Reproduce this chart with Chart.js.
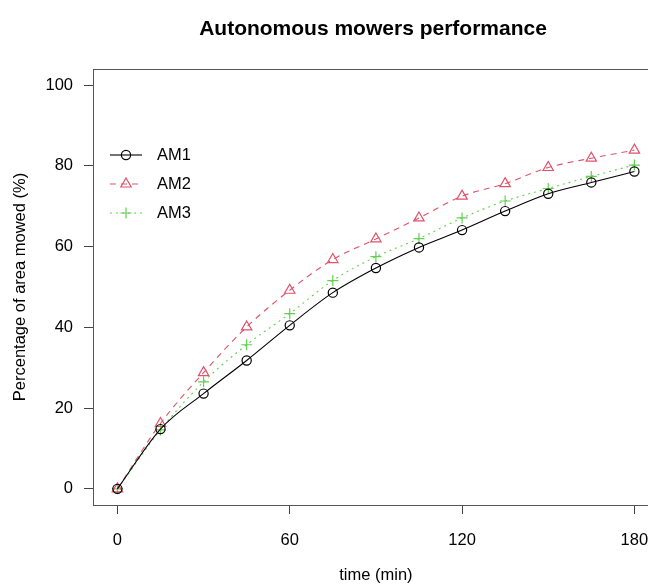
<!DOCTYPE html>
<html>
<head>
<meta charset="utf-8">
<script src="https://cdn.jsdelivr.net/npm/chart.js@4/dist/chart.umd.min.js"></script>
<style>
  html, body { margin: 0; padding: 0; background: #fff; overflow: hidden; }
  #wrap { width: 648px; height: 584px; overflow: hidden; }
</style>
</head>
<body>
<div id="wrap"><canvas id="mowerChart" width="666" height="584"></canvas></div>
<script>
// values
const times = [0, 15, 30, 45, 60, 75, 90, 105, 120, 135, 150, 165, 180];
const am1 = [0, 14.8, 23.6, 31.8, 40.5, 48.6, 54.7, 59.8, 64.1, 68.8, 73.1, 75.9, 78.6];
const am2 = [0, 16.2, 28.8, 40.1, 49.2, 56.8, 61.9, 67.1, 72.5, 75.6, 79.6, 81.9, 83.9];
const am3 = [0, 14.6, 26.5, 35.7, 43.4, 51.6, 57.5, 62.0, 67.1, 71.3, 74.4, 77.4, 80.2];
const xTicks = [0, 60, 120, 180];
const yTicks = [0, 20, 40, 60, 80, 100];

const FONT = "'Liberation Sans', Arial, Helvetica, sans-serif";
const RED = '#DF536B';
const GREEN = '#61D04F';

function toPoints(ys) {
    return times.map((t, i) => ({ x: t, y: ys[i] }));
}

function series(label, ys, color, dash, style, radius) {
    return {
        label: label,
        data: toPoints(ys),
        borderColor: color,
        borderWidth: 1.1,
        borderDash: dash,
        cubicInterpolationMode: 'monotone',
        pointStyle: style,
        pointRadius: radius,
        pointBorderColor: color,
        pointBackgroundColor: 'rgba(0,0,0,0)',
        pointBorderWidth: 1.2,
        fill: false
    };
}

// R-style frame, title and legend
const rLook = {
    id: 'rLook',
    afterDraw(chart) {
        const c = chart.ctx;
        const a = chart.chartArea;
        c.save();
        c.strokeStyle = '#555';
        c.lineWidth = 1;
        c.setLineDash([]);
        c.strokeRect(Math.round(a.left) + 0.5, Math.round(a.top) + 0.5,
            Math.round(a.right - a.left), Math.round(a.bottom - a.top));

        c.fillStyle = '#000';
        c.font = 'bold 21px ' + FONT;
        c.textAlign = 'center';
        c.textBaseline = 'alphabetic';
        c.fillText('Autonomous mowers performance', 373, 35);

        chart.data.datasets.forEach((ds, i) => {
            const y = 155 + 29 * i;
            c.strokeStyle = ds.borderColor;
            c.lineWidth = 1.1;
            c.setLineDash(ds.borderDash);
            c.beginPath();
            c.moveTo(110, y);
            c.lineTo(142, y);
            c.stroke();
            c.setLineDash([]);
            c.lineWidth = 1.2;
            c.beginPath();
            const px = 126;
            if (ds.pointStyle === 'circle') {
                c.arc(px, y, ds.pointRadius, 0, Math.PI * 2);
            } else if (ds.pointStyle === 'triangle') {
                const r = ds.pointRadius;
                c.moveTo(px, y - r);
                c.lineTo(px + r * Math.sin(2 * Math.PI / 3), y - r * Math.cos(2 * Math.PI / 3));
                c.lineTo(px - r * Math.sin(2 * Math.PI / 3), y - r * Math.cos(2 * Math.PI / 3));
                c.closePath();
            } else {
                const r = ds.pointRadius;
                c.moveTo(px - r, y); c.lineTo(px + r, y);
                c.moveTo(px, y - r); c.lineTo(px, y + r);
            }
            c.stroke();
            c.fillStyle = '#000';
            c.font = '16.5px ' + FONT;
            c.textAlign = 'left';
            c.textBaseline = 'middle';
            c.fillText(ds.label, 157, y);
        });
        c.restore();
    }
};

new Chart(document.getElementById('mowerChart'), {
    type: 'line',
    data: {
        datasets: [
            series('AM1', am1, '#000000', [], 'circle', 4.6),
            series('AM2', am2, RED, [6, 5], 'triangle', 6),
            series('AM3', am3, GREEN, [2, 4], 'cross', 5.5)
        ]
    },
    options: {
        responsive: false,
        animation: false,
        devicePixelRatio: 1,
        layout: { padding: { top: 69, left: 0, right: 2, bottom: 0 } },
        plugins: {
            legend: { display: false },
            tooltip: { enabled: false },
            title: { display: false }
        },
        scales: {
            x: {
                type: 'linear',
                min: -8.5,
                max: 188.5,
                afterBuildTicks: (s) => { s.ticks = xTicks.map(v => ({ value: v })); },
                afterFit: (s) => { s.height = 79; },
                grid: { drawOnChartArea: false, drawTicks: true, tickLength: 9, color: '#444' },
                border: { display: false },
                ticks: { color: '#000', padding: 17, maxRotation: 0, font: { family: FONT, size: 16.5 } },
                title: {
                    display: true,
                    text: 'time (min)',
                    color: '#000',
                    padding: { top: 0, bottom: 0 },
                    font: { family: FONT, size: 16.5, lineHeight: 1 }
                }
            },
            y: {
                min: -4,
                max: 104,
                afterBuildTicks: (s) => { s.ticks = yTicks.map(v => ({ value: v })); },
                afterFit: (s) => { s.width = 93; },
                grid: { drawOnChartArea: false, drawTicks: true, tickLength: 9, color: '#444' },
                border: { display: false },
                ticks: { color: '#000', padding: 11, font: { family: FONT, size: 16.5 } },
                title: {
                    display: true,
                    text: 'Percentage of area mowed (%)',
                    color: '#000',
                    padding: { top: 12, bottom: 0 },
                    font: { family: FONT, size: 16.5, lineHeight: 1 }
                }
            }
        }
    },
    plugins: [rLook]
});
</script>
</body>
</html>
